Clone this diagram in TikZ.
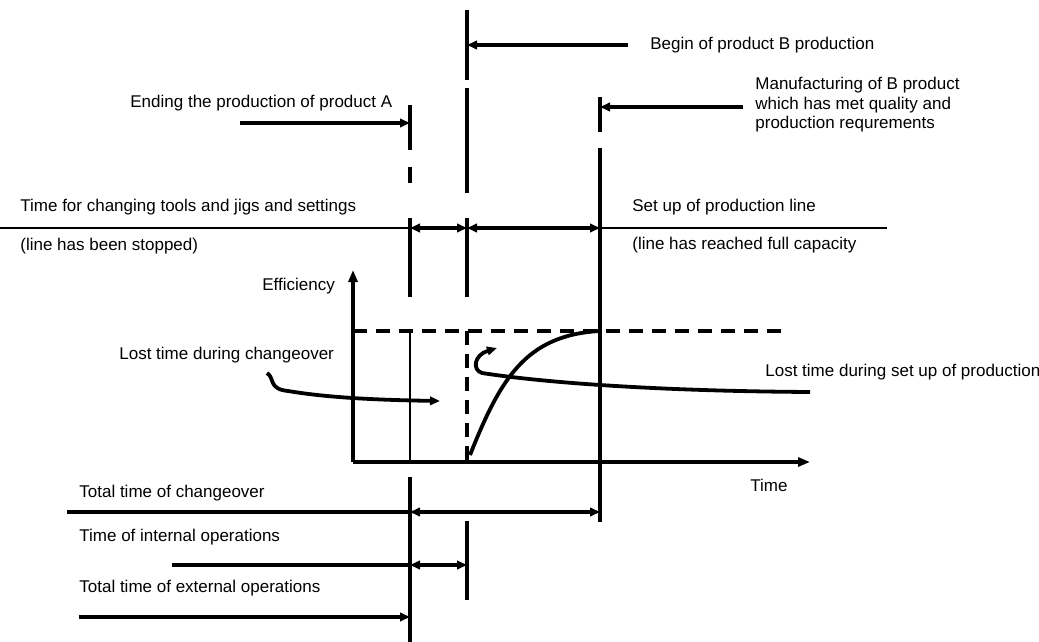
\documentclass[tikz,border=0pt]{standalone}
\usepackage{fontspec}
\setmainfont{Liberation Sans}
\usetikzlibrary{positioning,arrows.meta}

\begin{document}
\begin{tikzpicture}[
    x=0.5pt, y=-0.5pt,
    font={\fontsize{8.5}{9.8}\selectfont},
    caption/.style={anchor=west,inner sep=0pt,align=left},
    bar/.style={line width=1.7pt},
    thinbar/.style={line width=1.35pt},
    axis/.style={line width=2pt,-{Triangle[length=6pt,width=4.5pt]}},
    pointer/.style={line width=1.9pt,-{Triangle[length=5pt,width=4.2pt]}},
    span/.style={line width=1.9pt,{Triangle[length=5pt,width=4.2pt]}-{Triangle[length=5pt,width=4.2pt]}},
    level/.style={line width=1.9pt,dash pattern=on 7pt off 4.5pt},
]
    \useasboundingbox (0,0) rectangle (1039,642);

    % Labels
    \node[caption] (beginB)   at (650,45)  {Begin of product B production};
    \node[caption] (ending)   at (130,103) {Ending the production of product A};
    \node[caption] (manuf)    at (755,105) {Manufacturing of B product\\which has met quality and\\production requrements};
    \node[caption] (tools)    at (20,207)  {Time for changing tools and jigs and settings};
    \node[caption] (stopped)  at (20,246)  {(line has been stopped)};
    \node[caption] (setup)    at (632,207) {Set up of production line};
    \node[caption] (capacity) at (632,245) {(line has reached full capacity};
    \node[caption] (effic)    at (262,286) {Efficiency};
    \node[caption] (lostco)   at (119,355) {Lost time during changeover};
    \node[caption] (lostsu)   at (765,372) {Lost time during set up of production};
    \node[caption] (timeax)   at (750,485) {Time};
    \node[caption] (total)    at (79,493)  {Total time of changeover};
    \node[caption] (internal) at (79,537)  {Time of internal operations};
    \node[caption] (external) at (79,588)  {Total time of external operations};

    % Markers of product A end, product B begin, full quality
    \draw[bar] (410,105) -- (410,150);
    \draw[bar] (410,167) -- (410,183);
    \draw[bar] (410,218) -- (410,297);
    \draw[thinbar] (410,331) -- (410,462);
    \draw[bar] (410,477) -- (410,642);

    \draw[bar] (467,10) -- (467,80);
    \draw[bar] (467,88) -- (467,193);
    \draw[bar] (467,218) -- (467,297);
    \draw[bar] (467,521) -- (467,600);

    \draw[bar] (600,97) -- (600,132);
    \draw[bar] (600,148) -- (600,522);

    % Pointers to markers
    \draw[pointer] (628,45) -- (467,45);
    \draw[pointer] (240,123) -- (410,123);
    \draw[pointer] (743,107) -- (600,107);

    % Phases
    \draw[thinbar] (0,228) -- (887,228);
    \draw[span] (410,228) -- (467,228);
    \draw[span] (467,228) -- (600,228);

    % Efficiency chart
    \draw[axis] (353,462) -- (353,270);
    \draw[axis] (353,462) -- (810,462);
    \draw[level] (353,331) -- (790,331);
    \draw[level] (467,331) -- (467,462);
    \draw[line width=1.9pt] (470,455) .. controls (500,380) and (525,335) .. (600,331);

    \draw[pointer] (267,373) .. controls (275,378) and (268,389) .. (288,391)
        .. controls (330,398) and (380,400) .. (440,401);
    \draw[pointer] (810,392) .. controls (650,391) and (540,382) .. (482,373)
        .. controls (472,370) and (474,355) .. (497,348);

    % Times
    \draw[line width=1.9pt] (67,512) -- (410,512);
    \draw[span] (410,512) -- (600,512);
    \draw[line width=1.9pt] (172,565) -- (410,565);
    \draw[span] (410,565) -- (467,565);
    \draw[pointer] (79,617) -- (410,617);

\end{tikzpicture}
\end{document}
